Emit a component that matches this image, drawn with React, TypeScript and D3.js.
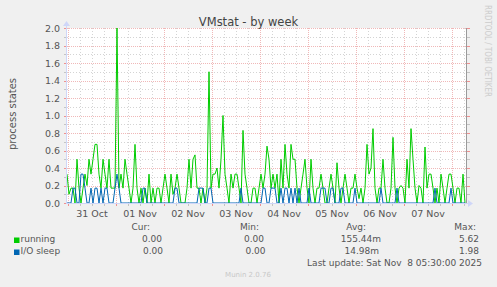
import React from "react";
import * as d3 from "d3";

const W = 497;
const H = 287;

// Time domain (one value per hour starting at the left edge)
const startTime = new Date(2025, 9, 30, 23, 30);
const endTime = new Date(2025, 10, 8, 7, 30);

const running: number[] = [
  0.33, 0.10, 0.17, 0.17, 0.00, 0.50, 0.17, 0.00, 0.17, 0.33,
  0.20, 0.50, 0.33, 0.50, 0.67, 0.67, 0.33, 0.17, 0.50, 0.33,
  0.17, 0.50, 0.17, 0.17, 0.17, 2.00, 0.17, 0.33, 0.17, 0.50,
  0.33, 0.17, 0.00, 0.17, 0.67, 0.17, 0.00, 0.17, 0.00, 0.17,
  0.00, 0.33, 0.00, 0.17, 0.00, 0.17, 0.17, 0.00, 0.17, 0.33,
  0.17, 0.00, 0.33, 0.10, 0.17, 0.33, 0.17, 0.00, 0.00, 0.00,
  0.17, 0.50, 0.17, 0.50, 0.55, 0.17, 0.17, 0.00, 0.17, 0.00,
  0.17, 1.50, 0.17, 0.33, 0.33, 0.40, 0.17, 0.50, 1.00, 0.33,
  0.17, 0.00, 0.33, 0.17, 0.33, 0.33, 0.17, 0.00, 0.83, 0.33,
  0.17, 0.00, 0.00, 0.17, 0.17, 0.00, 0.17, 0.33, 0.17, 0.33,
  0.65, 0.50, 0.17, 0.33, 0.17, 0.33, 0.00, 0.50, 0.17, 0.67,
  0.33, 0.17, 0.67, 0.50, 0.50, 0.17, 0.00, 0.17, 0.33, 0.50,
  0.17, 0.00, 0.50, 0.17, 0.00, 0.17, 0.17, 0.33, 0.17, 0.00,
  0.00, 0.17, 0.33, 0.17, 0.00, 0.46, 0.17, 0.00, 0.17, 0.33,
  0.17, 0.00, 0.17, 0.17, 0.33, 0.17, 0.05, 0.17, 0.00, 0.17,
  0.67, 0.33, 0.40, 0.85, 0.17, 0.00, 0.17, 0.17, 0.50, 0.17,
  0.00, 0.00, 0.17, 0.75, 0.17, 0.00, 0.17, 0.20, 0.17, 0.00,
  0.50, 0.17, 0.85, 0.50, 0.17, 0.00, 0.20, 0.17, 0.00, 0.64,
  0.17, 0.33, 0.33, 0.17, 0.00, 0.17, 0.00, 0.33, 0.17, 0.00,
  0.17, 0.33, 0.33, 0.17, 0.00, 0.17, 0.17, 0.00, 0.33, 0.00,
];

const ioSleep: number[] = [
  0, 0, 0, 0.17, 0.17, 0, 0, 0.33, 0.33, 0.17,
  0, 0, 0.17, 0, 0.17, 0.17, 0, 0.17, 0, 0.17,
  0.17, 0, 0, 0, 0.17, 0.33, 0.17, 0, 0, 0,
  0, 0, 0, 0, 0, 0, 0, 0, 0.17, 0.17,
  0, 0, 0, 0, 0, 0, 0, 0, 0, 0,
  0, 0, 0, 0, 0.17, 0.17, 0, 0, 0, 0,
  0, 0, 0, 0, 0, 0, 0.17, 0.17, 0.17, 0,
  0, 0.17, 0.17, 0, 0, 0, 0, 0, 0, 0,
  0, 0, 0, 0, 0, 0, 0, 0.17, 0, 0,
  0, 0, 0, 0, 0, 0, 0, 0, 0.17, 0.17,
  0, 0, 0.17, 0.17, 0.17, 0, 0, 0.17, 0, 0.17,
  0.17, 0, 0.17, 0, 0.17, 0, 0.17, 0, 0, 0,
  0, 0.17, 0, 0, 0, 0, 0, 0.17, 0.17, 0.17,
  0, 0, 0.17, 0.17, 0, 0, 0, 0.17, 0.17, 0,
  0, 0, 0, 0, 0.17, 0, 0, 0, 0, 0,
  0, 0, 0, 0, 0, 0, 0, 0.17, 0, 0,
  0, 0, 0, 0, 0, 0.17, 0, 0, 0, 0,
  0, 0, 0, 0, 0, 0, 0, 0, 0, 0,
  0, 0, 0, 0, 0.17, 0, 0, 0, 0, 0,
  0, 0, 0.17, 0, 0, 0, 0, 0, 0, 0,
];

const yTicks = [0, 0.2, 0.4, 0.6, 0.8, 1.0, 1.2, 1.4, 1.6, 1.8, 2.0];
const dayLabels = ["31 Oct", "01 Nov", "02 Nov", "03 Nov", "04 Nov", "05 Nov", "06 Nov", "07 Nov"];

const legendHeaders = ["Cur:", "Min:", "Avg:", "Max:"];
const runningStats = ["0.00", "0.00", "155.44m", "5.62"];
const ioStats = ["0.00", "0.00", "14.98m", "1.98"];

const title = "VMstat - by week";
const yLabel = "process states";
const lastUpdate = "Last update: Sat Nov  8 05:30:00 2025";

const GREEN = "#00CC00";
const BLUE = "#0066B3";
const AXIS = "#CFD6F8";
const FONT = "DejaVu Sans, sans-serif";

export default function App() {
  const left = 67;
  const right = 467;
  const top = 28;
  const bottom = 203;

  const x = d3.scaleTime().domain([startTime, endTime]).range([left, right]);
  const y = d3.scaleLinear().domain([0, 2]).range([bottom, top]);

  const times = running.map((_, i) => d3.timeHour.offset(startTime, i));
  const line = d3
    .line<number>()
    .x((_, i) => x(times[i]))
    .y((d) => y(d));

  const minorY = d3.range(0, 21).map((k) => k / 10).filter((v, k) => k % 2 === 1);
  const days = d3.timeDay.range(d3.timeDay.ceil(startTime), endTime);
  const sixHours = d3.timeHour.every(6)!.range(startTime, endTime).filter((t) => t.getHours() !== 0);
  const noons = days.map((d) => d3.timeHour.offset(d, 12)).filter((t) => t < endTime);

  const headerX = [150, 259, 366, 476];
  const row1X = [162, 264, 381, 479];
  const row2X = [163, 265.5, 379, 479];

  const MINOR = "#D4D4D4";
  const MAJOR = "#F0B8B8";

  return (
    <svg
      width={W}
      height={H}
      style={{ position: "absolute", left: 0, top: 0, display: "block" }}
      fontFamily={FONT}
    >
      <rect x={0} y={0} width={W} height={H} fill="#F0F0F0" />
      <rect x={left} y={top} width={right - left} height={bottom - top} fill="#FFFFFF" />

      {/* minor horizontal grid */}
      {minorY.map((v) => (
        <g key={"my" + v}>
          <line x1={left} x2={right} y1={Math.round(y(v)) + 0.5} y2={Math.round(y(v)) + 0.5} stroke={MINOR} strokeDasharray="1,2" />
          <line x1={left - 3} x2={left} y1={Math.round(y(v)) + 0.5} y2={Math.round(y(v)) + 0.5} stroke="#C4C4C4" />
          <line x1={right} x2={right + 3} y1={Math.round(y(v)) + 0.5} y2={Math.round(y(v)) + 0.5} stroke="#C4C4C4" />
        </g>
      ))}
      {/* minor vertical grid */}
      {sixHours.map((t) => (
        <g key={"mx" + t.getTime()}>
          <line x1={Math.round(x(t)) + 0.5} x2={Math.round(x(t)) + 0.5} y1={top} y2={bottom} stroke={MINOR} strokeDasharray="1,2" />
          <line x1={Math.round(x(t)) + 0.5} x2={Math.round(x(t)) + 0.5} y1={bottom} y2={bottom + 3} stroke="#C4C4C4" />
        </g>
      ))}
      {/* major horizontal grid */}
      {yTicks.map((v) => (
        <g key={"My" + v}>
          <line x1={left} x2={right} y1={Math.round(y(v)) + 0.5} y2={Math.round(y(v)) + 0.5} stroke={MAJOR} strokeDasharray="1,1" />
          <line x1={left - 3} x2={left} y1={Math.round(y(v)) + 0.5} y2={Math.round(y(v)) + 0.5} stroke="#F09090" />
          <line x1={right} x2={right + 3} y1={Math.round(y(v)) + 0.5} y2={Math.round(y(v)) + 0.5} stroke="#F09090" />
        </g>
      ))}
      {/* major vertical grid */}
      {days.map((t) => (
        <g key={"Mx" + t.getTime()}>
          <line x1={Math.round(x(t)) + 0.5} x2={Math.round(x(t)) + 0.5} y1={top} y2={bottom} stroke={MAJOR} strokeDasharray="1,1" />
          <line x1={Math.round(x(t)) + 0.5} x2={Math.round(x(t)) + 0.5} y1={bottom} y2={bottom + 3} stroke="#F09090" />
        </g>
      ))}

      {/* right frame line */}
      <line x1={right - 0.5} x2={right - 0.5} y1={top} y2={bottom} stroke="#9A9A9A" />

      {/* series */}
      <path d={line(running) || ""} fill="none" stroke={GREEN} strokeWidth={1} />
      <path d={line(ioSleep) || ""} fill="none" stroke={BLUE} strokeWidth={1} />

      {/* axes */}
      <line x1={left} x2={right + 1} y1={bottom + 0.5} y2={bottom + 0.5} stroke={AXIS} />
      <path d={`M${right + 1},${bottom - 3} L${right + 6},${bottom + 0.5} L${right + 1},${bottom + 4} Z`} fill={AXIS} />
      <line x1={left - 0.5} x2={left - 0.5} y1={bottom + 1} y2={top - 2} stroke={AXIS} />
      <path d={`M${left - 4},${top - 2} L${left - 0.5},${top - 7} L${left + 3},${top - 2} Z`} fill={AXIS} />

      {/* y tick labels */}
      {yTicks.map((v) => (
        <text key={"yl" + v} x={60} y={y(v) + 3.5} textAnchor="end" fontSize={9.5} fill="#555">
          {d3.format(".1f")(v)}
        </text>
      ))}
      {/* x tick labels */}
      {noons.map((t, i) => (
        <text key={"xl" + i} x={x(t)} y={217} textAnchor="middle" fontSize={9.5} fill="#555">
          {dayLabels[i]}
        </text>
      ))}

      {/* title */}
      <text x={248.5} y={25.5} textAnchor="middle" fontSize={11.5} fill="#444">
        {title}
      </text>
      {/* y label */}
      <text transform={`translate(15.5,114) rotate(-90)`} textAnchor="middle" fontSize={10} fill="#555">
        {yLabel}
      </text>
      {/* rrdtool watermark */}
      <text
        transform={`translate(484.5,5) rotate(90)`}
        textAnchor="start"
        fontSize={9}
        fill="#CCCCCC"
        textLength={92}
        lengthAdjust="spacingAndGlyphs"
      >
        RRDTOOL / TOBI OETIKER
      </text>

      {/* legend */}
      {legendHeaders.map((h, i) => (
        <text key={"h" + i} x={headerX[i]} y={230} textAnchor="end" fontSize={9} fill="#555">
          {h}
        </text>
      ))}
      <rect x={14} y={237.5} width={5.5} height={5.5} fill={GREEN} />
      <text x={20.5} y={242} fontSize={9} fill="#555">running</text>
      {runningStats.map((s, i) => (
        <text key={"r" + i} x={row1X[i]} y={242} textAnchor="end" fontSize={9} fill="#555">
          {s}
        </text>
      ))}
      <rect x={14} y={249.5} width={5.5} height={5.5} fill={BLUE} />
      <text x={20.5} y={254} fontSize={9} fill="#555">I/O sleep</text>
      {ioStats.map((s, i) => (
        <text key={"s" + i} x={row2X[i]} y={254} textAnchor="end" fontSize={9} fill="#555">
          {s}
        </text>
      ))}
      <text x={482} y={266} textAnchor="end" fontSize={9} fill="#555" style={{ whiteSpace: "pre" }}>
        {lastUpdate}
      </text>
      <text x={248} y={277} textAnchor="middle" fontSize={7} fill="#C8C8C8">
        Munin 2.0.76
      </text>
    </svg>
  );
}
